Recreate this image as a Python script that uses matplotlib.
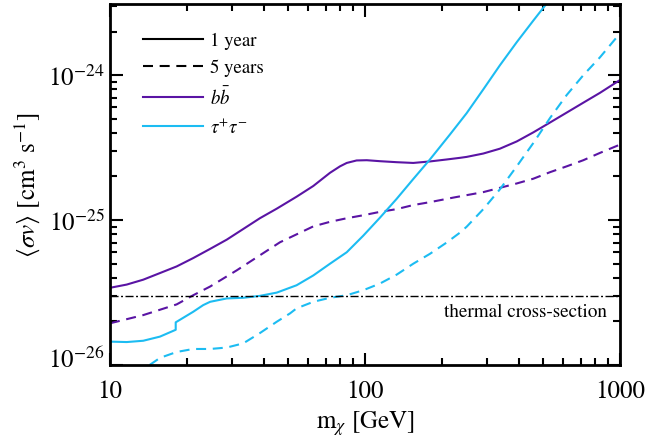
import matplotlib
matplotlib.use("Agg")
import matplotlib.pyplot as plt
import matplotlib.transforms as mtransforms
from matplotlib.lines import Line2D
from matplotlib.ticker import LogLocator, FixedLocator, FixedFormatter, NullFormatter

plt.rcParams['font.family'] = ['STIXGeneral', 'DejaVu Serif']
plt.rcParams['mathtext.fontset'] = 'stix'

PURPLE = '#5a14a4'
CYAN = '#1cbcf2'

# Dark-matter mass [GeV] and annihilation cross-section limits [cm^3 s^-1]
m_bb_1yr = [10, 11.63, 13.5, 15.7, 18.26, 21.2, 24.7, 28.7, 33.3, 38.7, 45.1,
            53.9, 62.7, 72.9, 79.8, 84.8, 92.7, 101.6, 114.5, 133, 154.6, 179.7,
            209, 235.8, 250.4, 291, 338, 393.6, 457, 531, 618, 718, 835, 984, 1000]
sv_bb_1yr = [3.41e-26, 3.59e-26, 3.88e-26, 4.31e-26, 4.79e-26, 5.47e-26, 6.33e-26,
             7.33e-26, 8.68e-26, 1.03e-25, 1.20e-25, 1.45e-25, 1.72e-25,
             2.12e-25, 2.35e-25, 2.48e-25, 2.58e-25, 2.59e-25, 2.55e-25, 2.51e-25,
             2.48e-25, 2.54e-25, 2.62e-25, 2.69e-25, 2.73e-25, 2.88e-25, 3.11e-25,
             3.49e-25, 4.03e-25, 4.71e-25, 5.52e-25, 6.46e-25, 7.56e-25, 9.1e-25,
             9.25e-25]

m_bb_5yr = [10, 13.5, 18.26, 21.2, 24.7, 31.4, 46.4, 62.7, 72.9,
            84.8, 98.4, 114.5, 133, 154.6, 179.7, 222, 291, 393.6, 457, 531, 618,
            718, 835, 984, 1000]
sv_bb_5yr = [1.94e-26, 2.21e-26, 2.62e-26, 3.03e-26, 3.48e-26, 4.5e-26,
             7.03e-26, 9.05e-26, 9.73e-26, 1.03e-25, 1.08e-25,
             1.14e-25, 1.19e-25, 1.27e-25, 1.33e-25, 1.43e-25, 1.56e-25, 1.79e-25,
             1.93e-25, 2.14e-25, 2.35e-25, 2.59e-25, 2.91e-25, 3.28e-25, 3.32e-25]

m_tt_1yr = [10, 11.63, 13.5, 15.7, 18.1, 18.1, 21.2, 23.2, 24.7, 28.7, 33.3, 38.7,
            45.1, 53.9, 62.7, 72.9, 84.8, 98.4, 114.5, 133, 154.6, 179.7,
            215.4, 250.4, 291, 338, 393.6, 457, 508, 556]
sv_tt_1yr = [1.45e-26, 1.44e-26, 1.47e-26, 1.57e-26, 1.75e-26, 1.97e-26, 2.33e-26,
             2.59e-26, 2.73e-26, 2.88e-26, 2.91e-26, 3.0e-26, 3.16e-26,
             3.55e-26, 4.15e-26, 5.0e-26, 6.0e-26, 7.8e-26, 1.04e-25, 1.40e-25,
             1.92e-25, 2.62e-25, 3.9e-25, 5.47e-25, 7.98e-25, 1.17e-24,
             1.69e-24, 2.38e-24, 3.02e-24, 3.7e-24]

m_tt_5yr = [14.3, 15.7, 18.26, 21.2, 24.7, 28.7, 33.3, 38.7, 45.1, 50.8, 53.9, 62.7,
            72.9, 84.8, 98.4, 114.5, 133, 154.6, 179.7, 209, 235.8, 250.4, 291, 338,
            393.6, 457, 531, 618, 718, 835, 984, 1000]
sv_tt_5yr = [1.0e-26, 1.12e-26, 1.23e-26, 1.29e-26, 1.29e-26, 1.32e-26, 1.41e-26,
             1.66e-26, 1.99e-26, 2.27e-26, 2.46e-26, 2.73e-26, 2.91e-26, 3.03e-26,
             3.28e-26, 3.65e-26, 4.2e-26, 5.0e-26, 5.85e-26, 7.0e-26, 8.2e-26,
             9.0e-26, 1.19e-25, 1.63e-25, 2.35e-25, 3.4e-25, 5.05e-25, 7.3e-25,
             1.0e-24, 1.33e-24, 1.88e-24, 1.93e-24]

thermal_sv = 3e-26

x_ticks = [10, 100, 1000]
x_tick_labels = ['10', '100', '1000']
y_ticks = [1e-26, 1e-25, 1e-24]
y_tick_labels = [r'$10^{-26}$', r'$10^{-25}$', r'$10^{-24}$']

legend_labels = ['1 year', '5 years', r'$b\bar{b}$', r'$\tau^{+}\tau^{-}$']

fig = plt.figure(figsize=(6.48, 4.39), dpi=100)
ax = fig.add_axes([110 / 648, 1 - 366 / 439, 510 / 648, 361 / 439])

dash = (0, (4.8, 3.2))
lw = 1.5
style = dict(lw=lw, solid_joinstyle='round', dash_joinstyle='round')
ax.plot(m_bb_1yr, sv_bb_1yr, color=PURPLE, **style)
ax.plot(m_bb_5yr, sv_bb_5yr, color=PURPLE, ls=dash, **style)
ax.plot(m_tt_1yr, sv_tt_1yr, color=CYAN, **style)
ax.plot(m_tt_5yr, sv_tt_5yr, color=CYAN, ls=dash, **style)

ax.axhline(thermal_sv, color='black', lw=1.0, ls=(0, (5.8, 1.8, 1.4, 1.8)))
ax.text(0.9745, 0.1496, 'thermal cross-section', transform=ax.transAxes,
        ha='right', va='center', fontsize=13.8)

ax.set_xscale('log')
ax.set_yscale('log')
ax.set_xlim(10, 1000)
ax.set_ylim(1e-26, 3.1e-24)

ax.xaxis.set_major_locator(FixedLocator(x_ticks))
ax.xaxis.set_major_formatter(FixedFormatter(x_tick_labels))
ax.yaxis.set_major_locator(FixedLocator(y_ticks))
ax.yaxis.set_major_formatter(FixedFormatter(y_tick_labels))
ax.xaxis.set_minor_locator(LogLocator(base=10, subs=range(2, 10)))
ax.yaxis.set_minor_locator(LogLocator(base=10, subs=range(2, 10)))
ax.xaxis.set_minor_formatter(NullFormatter())
ax.yaxis.set_minor_formatter(NullFormatter())

ax.tick_params(which='both', direction='in', top=True, right=True,
               width=1.5, labelsize=18, colors='black')
ax.tick_params(which='major', length=9)
ax.tick_params(which='minor', length=5)
ax.tick_params(axis='x', pad=10)
ax.tick_params(axis='y', pad=4)
for sp in ax.spines.values():
    sp.set_linewidth(2)

# lift the lowest y label clear of the x axis
fig.canvas.draw()
lowest = ax.yaxis.get_majorticklabels()[0]
lowest.set_transform(lowest.get_transform() +
                     mtransforms.ScaledTranslation(0, 8 / 100, fig.dpi_scale_trans))

ax.set_xlabel(r'm$_{\chi}$ [GeV]', fontsize=18, labelpad=4)
ax.set_ylabel(r'$\langle\sigma v\rangle$ [cm$^{3}$ s$^{-1}$]', fontsize=18, labelpad=4)

handles = [Line2D([], [], color='black', lw=lw),
           Line2D([], [], color='black', lw=lw, ls=dash),
           Line2D([], [], color=PURPLE, lw=lw),
           Line2D([], [], color=CYAN, lw=lw)]
ax.legend(handles, legend_labels, loc='upper left', bbox_to_anchor=(0.05, 0.943),
          frameon=False, fontsize=13.5, handlelength=3.2, handletextpad=0.37,
          labelspacing=0.5, borderaxespad=0, borderpad=0.4)

fig.savefig('out.png', dpi=100)
